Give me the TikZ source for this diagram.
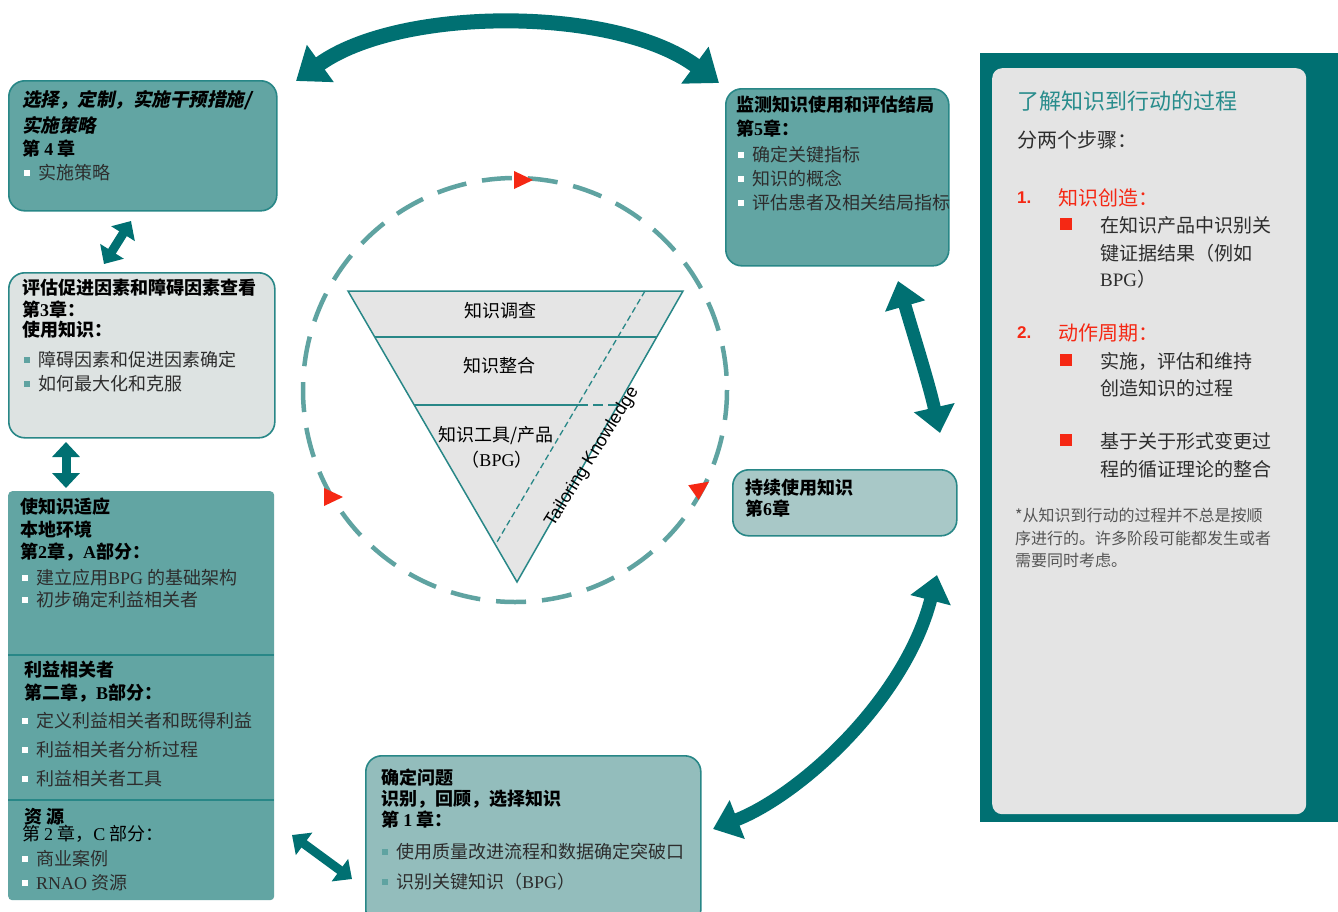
\documentclass[tikz,border=0pt]{standalone}
\usepackage{fontspec}
\setmainfont{Noto Sans CJK SC}
\newfontfamily\slfont{Noto Sans CJK SC}[FakeSlant=0.2]
\newfontfamily\lse{Liberation Serif}
\newfontfamily\lsa{Liberation Sans}
\usetikzlibrary{arrows.meta}
\definecolor{boxteal}{RGB}{98,165,163}
\definecolor{edgeteal}{RGB}{40,135,135}
\definecolor{darkteal}{RGB}{0,112,114}
\definecolor{lightbox}{RGB}{221,227,226}
\definecolor{boxsix}{RGB}{168,200,199}
\definecolor{boxone}{RGB}{147,189,188}
\definecolor{dashc}{RGB}{95,163,161}
\definecolor{funnelc}{RGB}{229,229,229}
\definecolor{panelg}{RGB}{228,228,228}
\definecolor{redc}{RGB}{245,40,20}
\definecolor{textc}{RGB}{45,45,45}
\definecolor{titlec}{RGB}{40,140,140}
\definecolor{notec}{RGB}{85,85,85}
\newcommand\sqbul[1]{\textcolor{#1}{\rule[0.22em]{0.32em}{0.32em}}\hspace{0.45em}}
\begin{document}
\begin{tikzpicture}[x=1pt,y=-1pt,
  box/.style={draw=edgeteal, line width=1.6pt, rounded corners=16pt, inner sep=0pt, anchor=north west},
  txt/.style={anchor=west, inner sep=0pt, font=\fontsize{18}{20}\selectfont, text=textc},
  hdr/.style={anchor=west, inner sep=0pt, font=\fontsize{18}{20}\selectfont\bfseries, text=black},
  ptxt/.style={anchor=west, inner sep=0pt, font=\fontsize{19}{21}\selectfont, text=textc},
  bigarrow/.style={draw=darkteal, line width=15pt, arrows={Triangle[length=30pt,width=44pt]-Triangle[length=30pt,width=44pt]}},
  midarrow/.style={draw=darkteal, line width=13pt, arrows={Triangle[length=26pt,width=40pt]-Triangle[length=26pt,width=40pt]}},
  smallarrow/.style={draw=darkteal, line width=9pt, arrows={Triangle[length=15pt,width=27pt]-Triangle[length=15pt,width=27pt]}},
  redtri/.style={fill=redc}]
\path[use as bounding box, fill=white] (0,0) rectangle (1338,911);
\clip (0,0) rectangle (1338,911);

% ---------- right panel ----------
\node[fill=darkteal, minimum width=358pt, minimum height=769pt, inner sep=0pt, anchor=north west] (panel) at (980,53) {};
\node[fill=panelg, rounded corners=10pt, minimum width=314pt, minimum height=746pt, inner sep=0pt, anchor=north west] (inner) at (992,68) {};
\node[ptxt, text=titlec, font=\fontsize{22}{24}\selectfont] (p1) at (1017,101) {了解知识到行动的过程};
\node[ptxt, font=\fontsize{20}{22}\selectfont] (p2) at (1017,140) {分两个步骤：};
\node[ptxt, text=redc, font=\lsa\bfseries\fontsize{17}{20}\selectfont] (p3) at (1017,198) {1.};
\node[ptxt, text=redc, font=\fontsize{20}{22}\selectfont] (p4) at (1058,198) {知识创造：};
\node[fill=redc, minimum size=12pt, inner sep=0pt] (s1) at (1066,224) {};
\node[ptxt] (p5) at (1100,225) {在知识产品中识别关};
\node[ptxt] (p6) at (1100,253) {键证据结果（例如};
\node[ptxt] (p7) at (1100,279) {{\lse BPG}）};
\node[ptxt, text=redc, font=\lsa\bfseries\fontsize{17}{20}\selectfont] (p8) at (1017,333) {2.};
\node[ptxt, text=redc, font=\fontsize{20}{22}\selectfont] (p9) at (1058,333) {动作周期：};
\node[fill=redc, minimum size=12pt, inner sep=0pt] (s2) at (1066,360) {};
\node[ptxt] (p10) at (1100,361) {实施，评估和维持};
\node[ptxt] (p11) at (1100,388) {创造知识的过程};
\node[fill=redc, minimum size=12pt, inner sep=0pt] (s3) at (1066,440) {};
\node[ptxt] (p12) at (1100,441) {基于关于形式变更过};
\node[ptxt] (p13) at (1100,469) {程的循证理论的整合};
\node[ptxt, text=notec, font=\fontsize{16}{18}\selectfont] (p14) at (1015,515) {*从知识到行动的过程并不总是按顺};
\node[ptxt, text=notec, font=\fontsize{16}{18}\selectfont] (p15) at (1015,538) {序进行的。许多阶段可能都发生或者};
\node[ptxt, text=notec, font=\fontsize{16}{18}\selectfont] (p16) at (1015,560) {需要同时考虑。};

% ---------- box 4 ----------
\node[box, fill=boxteal, minimum width=268pt, minimum height=130pt] (b4) at (8,80) {};
\node[hdr, font=\slfont\bfseries\fontsize{18.5}{20}\selectfont] (t41) at (22,100) {选择，定制，实施干预措施/};
\node[hdr, font=\slfont\bfseries\fontsize{18.5}{20}\selectfont] (t42) at (22,125) {实施策略};
\node[hdr] (t43) at (22,149) {第 {\lse 4} 章};
\node[txt] (t44) at (24,173) {\sqbul{white}实施策略};

% ---------- box 3 ----------
\node[box, fill=lightbox, minimum width=266pt, minimum height=165pt] (b3) at (8,272) {};
\node[hdr] (t31) at (22,288) {评估促进因素和障碍因素查看};
\node[hdr] (t32) at (22,310) {第{\lse 3}章：};
\node[hdr] (t33) at (22,330) {使用知识：};
\node[txt] (t34) at (24,360) {\sqbul{dashc}障碍因素和促进因素确定};
\node[txt] (t35) at (24,384) {\sqbul{dashc}如何最大化和克服};

% ---------- box 2 ----------
\node[fill=boxteal, rounded corners=4pt, minimum width=266pt, minimum height=409pt, inner sep=0pt, anchor=north west] (b2) at (8,491) {};
\draw[edgeteal, line width=1.6pt] (b2.west |- 0,655) -- (b2.east |- 0,655);
\draw[edgeteal, line width=1.6pt] (b2.west |- 0,800) -- (b2.east |- 0,800);
\node[hdr] (t21) at (20,507) {使知识适应};
\node[hdr] (t22) at (20,530) {本地环境};
\node[hdr] (t23) at (20,552) {第{\lse 2}章，{\lse A}部分：};
\node[txt] (t24) at (22,578) {\sqbul{white}建立应用{\lse BPG} 的基础架构};
\node[txt] (t25) at (22,600) {\sqbul{white}初步确定利益相关者};
\node[hdr] (t26) at (24,670) {利益相关者};
\node[hdr] (t27) at (24,693) {第二章，{\lse B}部分：};
\node[txt] (t28) at (22,721) {\sqbul{white}定义利益相关者和既得利益};
\node[txt] (t29) at (22,750) {\sqbul{white}利益相关者分析过程};
\node[txt] (t2a) at (22,779) {\sqbul{white}利益相关者工具};
\node[hdr] (t2b) at (24,817) {资 源};
\node[hdr, font=\fontsize{18}{20}\selectfont] (t2c) at (22,834) {第 {\lse 2} 章，{\lse C} 部分：};
\node[txt] (t2d) at (22,859) {\sqbul{white}商业案例};
\node[txt] (t2e) at (22,883) {\sqbul{white}{\lse RNAO} 资源};

% ---------- box 5 ----------
\node[box, fill=boxteal, minimum width=223pt, minimum height=177pt] (b5) at (725,88) {};
\node[hdr] (t51) at (736,105) {监测知识使用和评估结局};
\node[hdr] (t52) at (736,129) {第{\lse 5}章：};
\node[txt] (t53) at (738,155) {\sqbul{white}确定关键指标};
\node[txt] (t54) at (738,179) {\sqbul{white}知识的概念};
\node[txt] (t55) at (738,203) {\sqbul{white}评估患者及相关结局指标};

% ---------- box 6 ----------
\node[box, fill=boxsix, minimum width=224pt, minimum height=66pt] (b6) at (732,469) {};
\node[hdr] (t61) at (745,488) {持续使用知识};
\node[hdr] (t62) at (745,509) {第{\lse 6}章};

% ---------- box 1 ----------
\node[box, fill=boxone, minimum width=335pt, minimum height=170pt] (b1) at (365,755) {};
\node[hdr] (t11) at (381,778) {确定问题};
\node[hdr] (t12) at (381,799) {识别，回顾，选择知识};
\node[hdr] (t13) at (381,820) {第 {\lse 1} 章：};
\node[txt] (t14) at (382,852) {\sqbul{dashc}使用质量改进流程和数据确定突破口};
\node[txt] (t15) at (382,882) {\sqbul{dashc}识别关键知识（{\lse BPG}）};

% ---------- dashed circle ----------
\coordinate (cc) at (515,390);
\draw[dashc, line width=4.5pt, dash pattern=on 30pt off 16pt] (cc) circle [radius=212];
\fill[redtri, shift={(522,180)}] (-8,-9) -- (11,0) -- (-8,9) -- cycle;
\fill[redtri, shift={(332,497)}] (-8,-9) -- (11,0) -- (-8,9) -- cycle;
\fill[redtri, shift={(700,488)}, rotate=35] (-8,-9) -- (11,0) -- (-8,9) -- cycle;

% ---------- funnel ----------
\coordinate (fA) at (348,291);
\coordinate (fB) at (683,291);
\coordinate (fC) at (517,582);
\filldraw[fill=funnelc, draw=edgeteal, line width=1.5pt] (fA) -- (fB) -- (fC) -- cycle;
\draw[edgeteal, line width=1.5pt] (375,337) -- (657,337);
\draw[edgeteal, line width=1.5pt] (414,405) -- (578,405);
\draw[edgeteal, line width=1.5pt, dash pattern=on 10pt off 5pt] (578,405) -- (618,405);
\draw[edgeteal, line width=1.3pt, dash pattern=on 6pt off 3.5pt] (645,291) -- (497,542);
\node[txt, anchor=center, text=black] (f1) at (500,311) {知识调查};
\node[txt, anchor=center, text=black] (f2) at (499,366) {知识整合};
\node[txt, anchor=center, text=black] (f3) at (496,436) {知识工具/产品};
\node[txt, anchor=center, text=black] (f4) at (497,460) {（{\lse BPG}）};
\node[inner sep=0pt, rotate=58, font=\lsa\fontsize{18}{20}\selectfont] (tk) at (592,457) {Tailoring Knowledge};

% ---------- arrows ----------
\coordinate (a1) at (296,81);
\coordinate (a2) at (719,83);
\draw[bigarrow] (a1) .. controls (400,6) and (615,6) .. (a2);
\coordinate (a3) at (131,221);
\coordinate (a4) at (104,264);
\draw[smallarrow] (a3) -- (a4);
\coordinate (a5) at (66,442);
\coordinate (a6) at (66,488);
\draw[smallarrow] (a5) -- (a6);
\coordinate (a7) at (292,835);
\coordinate (a8) at (352,879);
\draw[smallarrow] (a7) -- (a8);
\coordinate (a9) at (713,829);
\coordinate (a10) at (937,575);
\draw[midarrow] (a9) .. controls (800,795) and (905,700) .. (a10);
\coordinate (a11) at (898,281);
\coordinate (a12) at (940,433);
\draw[midarrow] (a11) .. controls (912,330) and (928,380) .. (a12);
\end{tikzpicture}
\end{document}
